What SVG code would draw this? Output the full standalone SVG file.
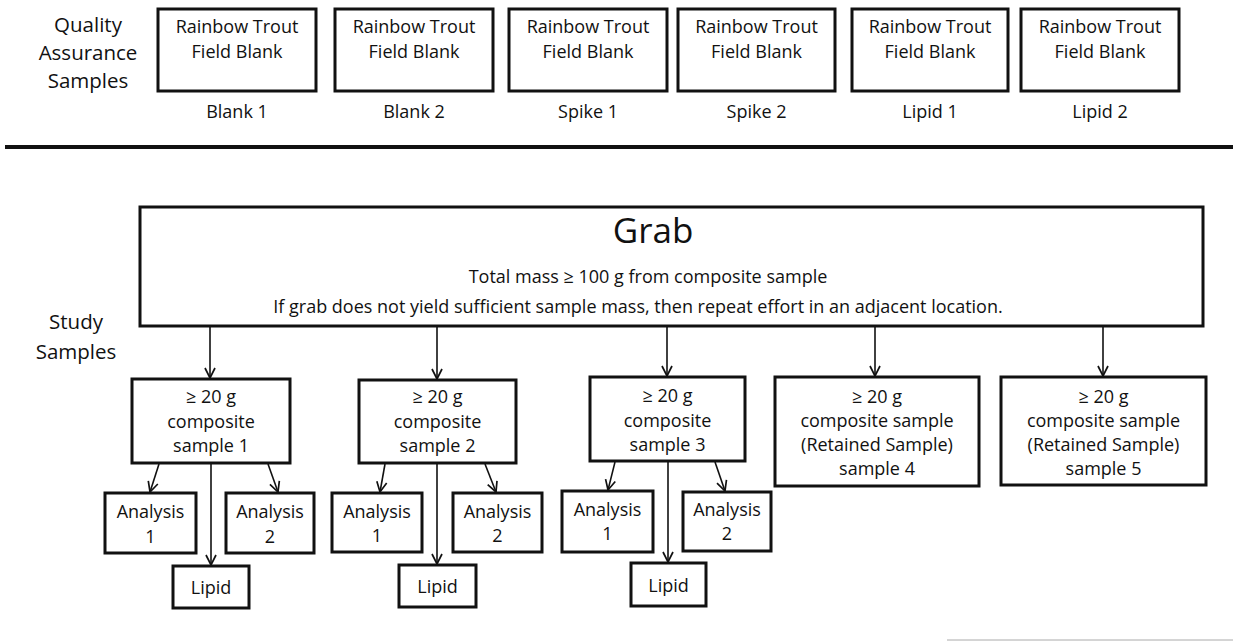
<svg xmlns="http://www.w3.org/2000/svg" width="1233" height="641" viewBox="0 0 1233 641">
  <defs>
    <!-- open V arrowhead; tip sits on the line end -->
    <marker id="arrow" viewBox="0 0 12 12" refX="11" refY="6" markerWidth="12" markerHeight="12" markerUnits="userSpaceOnUse" orient="auto">
      <path d="M1,1 L11,6 L1,11" fill="none" stroke="#111" stroke-width="1.7"/>
    </marker>
    <style>
      text { font-family: "Open Sans", "Liberation Sans", sans-serif; fill: #111; text-anchor: middle; }
      .box { fill: #fff; stroke: #111; stroke-width: 3; }
      .t { font-size: 18px; }
      .side { font-size: 20.5px; }
      .grab { font-size: 35px; }
      .conn line { stroke: #111; stroke-width: 1.6; fill: none; marker-end: url(#arrow); }
    </style>
  </defs>
  <rect width="1233" height="641" fill="#fff"/>

  <!-- Quality assurance row -->
  <g id="qa-label">
    <text class="side" x="88" y="32">Quality</text>
    <text class="side" x="88" y="60">Assurance</text>
    <text class="side" x="88" y="88">Samples</text>
  </g>
  <g id="qa-blank1">
    <rect class="box" x="158" y="9" width="158" height="82"/>
    <text class="t" x="237" y="33">Rainbow Trout</text>
    <text class="t" x="237" y="58">Field Blank</text>
    <text class="t" x="237" y="118">Blank 1</text>
  </g>
  <g id="qa-blank2">
    <rect class="box" x="335" y="9" width="158" height="82"/>
    <text class="t" x="414" y="33">Rainbow Trout</text>
    <text class="t" x="414" y="58">Field Blank</text>
    <text class="t" x="414" y="118">Blank 2</text>
  </g>
  <g id="qa-spike1">
    <rect class="box" x="509" y="9" width="158" height="82"/>
    <text class="t" x="588" y="33">Rainbow Trout</text>
    <text class="t" x="588" y="58">Field Blank</text>
    <text class="t" x="588" y="118">Spike 1</text>
  </g>
  <g id="qa-spike2">
    <rect class="box" x="678" y="9" width="157" height="82"/>
    <text class="t" x="756.5" y="33">Rainbow Trout</text>
    <text class="t" x="756.5" y="58">Field Blank</text>
    <text class="t" x="756.5" y="118">Spike 2</text>
  </g>
  <g id="qa-lipid1">
    <rect class="box" x="852" y="9" width="156" height="82"/>
    <text class="t" x="930" y="33">Rainbow Trout</text>
    <text class="t" x="930" y="58">Field Blank</text>
    <text class="t" x="930" y="118">Lipid 1</text>
  </g>
  <g id="qa-lipid2">
    <rect class="box" x="1021" y="9" width="158" height="82"/>
    <text class="t" x="1100" y="33">Rainbow Trout</text>
    <text class="t" x="1100" y="58">Field Blank</text>
    <text class="t" x="1100" y="118">Lipid 2</text>
  </g>

  <!-- section divider -->
  <line x1="5" y1="147" x2="1233" y2="147" stroke="#111" stroke-width="4"/>

  <!-- Study samples -->
  <g id="study-label">
    <text class="side" x="76" y="329">Study</text>
    <text class="side" x="76" y="359">Samples</text>
  </g>
  <g id="grab">
    <rect class="box" x="140" y="207" width="1063" height="119"/>
    <text class="grab" x="653" y="243">Grab</text>
    <text class="t" x="648" y="283">Total mass ≥ 100 g from composite sample</text>
    <text class="t" x="638" y="313">If grab does not yield sufficient sample mass, then repeat effort in an adjacent location.</text>
  </g>

  <g id="composite1">
    <rect class="box" x="132" y="379" width="158" height="84"/>
    <text class="t" x="211" y="403">≥ 20 g</text>
    <text class="t" x="211" y="427.5">composite</text>
    <text class="t" x="211" y="452">sample 1</text>
  </g>
  <g id="composite2">
    <rect class="box" x="359" y="380" width="157" height="83"/>
    <text class="t" x="437.5" y="403">≥ 20 g</text>
    <text class="t" x="437.5" y="427.5">composite</text>
    <text class="t" x="437.5" y="452">sample 2</text>
  </g>
  <g id="composite3">
    <rect class="box" x="590" y="377" width="155" height="84"/>
    <text class="t" x="667.5" y="402">≥ 20 g</text>
    <text class="t" x="667.5" y="426.5">composite</text>
    <text class="t" x="667.5" y="451">sample 3</text>
  </g>
  <g id="composite4">
    <rect class="box" x="775" y="377" width="204" height="109"/>
    <text class="t" x="877" y="403">≥ 20 g</text>
    <text class="t" x="877" y="427">composite sample</text>
    <text class="t" x="877" y="451">(Retained Sample)</text>
    <text class="t" x="877" y="475">sample 4</text>
  </g>
  <g id="composite5">
    <rect class="box" x="1001" y="377" width="205" height="108"/>
    <text class="t" x="1103.5" y="403">≥ 20 g</text>
    <text class="t" x="1103.5" y="427">composite sample</text>
    <text class="t" x="1103.5" y="451">(Retained Sample)</text>
    <text class="t" x="1103.5" y="475">sample 5</text>
  </g>

  <!-- analyses for composite 1 -->
  <g id="c1-analysis1">
    <rect class="box" x="105" y="493" width="91" height="60"/>
    <text class="t" x="150.5" y="518">Analysis</text>
    <text class="t" x="150.5" y="543">1</text>
  </g>
  <g id="c1-analysis2">
    <rect class="box" x="226" y="493" width="88" height="60"/>
    <text class="t" x="270" y="518">Analysis</text>
    <text class="t" x="270" y="543">2</text>
  </g>
  <g id="c1-lipid">
    <rect class="box" x="173" y="566" width="76" height="42"/>
    <text class="t" x="211" y="594">Lipid</text>
  </g>

  <!-- analyses for composite 2 -->
  <g id="c2-analysis1">
    <rect class="box" x="332" y="493" width="90" height="59"/>
    <text class="t" x="377" y="518">Analysis</text>
    <text class="t" x="377" y="542">1</text>
  </g>
  <g id="c2-analysis2">
    <rect class="box" x="453" y="493" width="89" height="59"/>
    <text class="t" x="497.5" y="518">Analysis</text>
    <text class="t" x="497.5" y="542">2</text>
  </g>
  <g id="c2-lipid">
    <rect class="box" x="399" y="565" width="77" height="42"/>
    <text class="t" x="437.5" y="593">Lipid</text>
  </g>

  <!-- analyses for composite 3 -->
  <g id="c3-analysis1">
    <rect class="box" x="562" y="491" width="91" height="61"/>
    <text class="t" x="607.5" y="516">Analysis</text>
    <text class="t" x="607.5" y="540">1</text>
  </g>
  <g id="c3-analysis2">
    <rect class="box" x="683" y="492" width="88" height="59"/>
    <text class="t" x="727" y="516">Analysis</text>
    <text class="t" x="727" y="540">2</text>
  </g>
  <g id="c3-lipid">
    <rect class="box" x="631" y="563" width="75" height="43"/>
    <text class="t" x="668.5" y="592">Lipid</text>
  </g>

  <!-- connectors -->
  <g id="connectors" class="conn">
    <line x1="210" y1="327" x2="210" y2="378"/>
    <line x1="437" y1="327" x2="437" y2="379"/>
    <line x1="667" y1="327" x2="667" y2="376"/>
    <line x1="875" y1="327" x2="875" y2="376"/>
    <line x1="1103" y1="327" x2="1103" y2="376"/>

    <line x1="159" y1="464" x2="150" y2="492"/>
    <line x1="211" y1="464" x2="211" y2="565"/>
    <line x1="268" y1="464" x2="278" y2="492"/>

    <line x1="385" y1="464" x2="380" y2="492"/>
    <line x1="437" y1="464" x2="437" y2="564"/>
    <line x1="485" y1="464" x2="496" y2="492"/>

    <line x1="615" y1="462" x2="608" y2="490"/>
    <line x1="668" y1="462" x2="668" y2="562"/>
    <line x1="715" y1="462" x2="725" y2="491"/>
  </g>

  <!-- faint rule at the lower edge -->
  <line x1="947" y1="640" x2="1233" y2="640" stroke="#aaa" stroke-width="1"/>
</svg>
